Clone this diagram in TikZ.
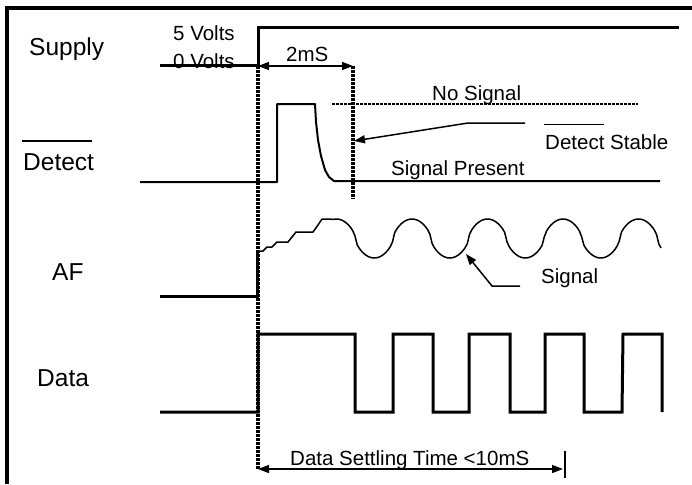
\documentclass[tikz,border=0pt]{standalone}
\usepackage{fontspec}
\setmainfont{Liberation Sans}
\usetikzlibrary{arrows.meta}
\begin{document}
\begin{tikzpicture}[x=1pt,y=-1pt,
  declare function={cw(\t)=cos((\t-336.5)/75.5*360);
                    wv(\t)=238.5-19.5*sign(cw(\t))*pow(abs(cw(\t)),0.6);},
  lbl/.style={inner sep=0pt,anchor=base west,font=\fontsize{20.5}{24}\selectfont},
  sig/.style={inner sep=0pt,anchor=base west,font=\fontsize{24.5}{28}\selectfont},
  heavy/.style={line width=3pt,line join=miter},
  medium/.style={line width=2pt},
  thinl/.style={line width=1.5pt},
  dots/.style={line width=3.2pt,dash pattern=on 3pt off 1pt},
  hdots/.style={line width=2.6pt,dash pattern=on 3pt off 1pt},
  tip/.style={-{Triangle[length=11pt,width=8pt]}},
  dtip/.style={{Triangle[length=11pt,width=8pt]}-{Triangle[length=11pt,width=8pt]}}]
\useasboundingbox (0,0) rectangle (692,484);
% frame
\draw[line width=3.5pt] (7,484) -- (7,8) -- (692,8);
% labels
\node[sig] (supply) at (29,56) {Supply};
\node[sig] (detect) at (23,170) {Detect};
\draw[thinl] (22,141) -- (92,141);
\node[sig] (af) at (52,280) {AF};
\node[sig] (data) at (37,386) {Data};
\node[lbl] (v5) at (173,41) {5 Volts};
\node[lbl] (v0) at (173,69) {0 Volts};
\node[lbl] (t2) at (286,62) {2mS};
\node[lbl] (nosig) at (432,100) {No Signal};
\node[lbl] (dstable) at (545,149) {Detect Stable};
\draw[line width=1pt] (544,124) -- (604,124);
\node[lbl] (sigp) at (391,175) {Signal Present};
\node[lbl] (signal) at (541,283) {Signal};
\node[lbl] (settle) at (290,465) {Data Settling Time <10mS};
% supply
\draw[heavy] (160,66) -- (258,66) -- (258,28) -- (679,28);
% dotted markers
\draw[dots] (258,66) -- (258,470);
\draw[dots] (353,66) -- (353,199);
% 2mS arrow
\coordinate (a2l) at (258,66);
\coordinate (a2r) at (353,66);
\draw[thinl,dtip] (a2l) -- (a2r);
% detect
\draw[medium,line join=round] (140,182) -- (277,182) -- (277,104) -- (315,104)
  -- (316,122) -- (318,140) -- (321,156) -- (325,170) -- (329,177) -- (334,181) -- (660,181);
\draw[hdots] (332,104) -- (638,104);
\coordinate (dsA) at (525,123);
\coordinate (dsB) at (468,123);
\coordinate (dsT) at (354,141);
\draw[thinl,tip] (dsA) -- (dsB) -- (dsT);
% AF
\draw[heavy] (160,296) -- (257,296) -- (257,251);
\draw[thinl,line join=round] (257,251) -- (263,251) -- (267,247) -- (272,247) -- (277,242)
  -- (288,242) -- (296,232) -- (313,232) -- (318,225) -- (322,219) -- (330,219)
  -- plot[domain=333:661,samples=150] (\x,{wv(\x)});
\coordinate (sgA) at (520,286);
\coordinate (sgB) at (492,286);
\coordinate (sgT) at (466,254);
\draw[thinl,tip] (sgA) -- (sgB) -- (sgT);
% data
\draw[heavy] (160,412) -- (258,412) -- (258,334) -- (355,334) -- (355,412) -- (393,412)
  -- (393,334) -- (433,334) -- (433,412) -- (469,412) -- (469,334) -- (510,334)
  -- (510,412) -- (545,412) -- (545,334) -- (584,334) -- (584,412) -- (622,412)
  -- (623,334) -- (662,334) -- (662,412);
% settling arrow
\coordinate (stl) at (258,469);
\coordinate (str) at (563,469);
\draw[thinl,dtip] (stl) -- (str);
\draw[thinl] (565,451) -- (565,478);
\end{tikzpicture}
\end{document}
